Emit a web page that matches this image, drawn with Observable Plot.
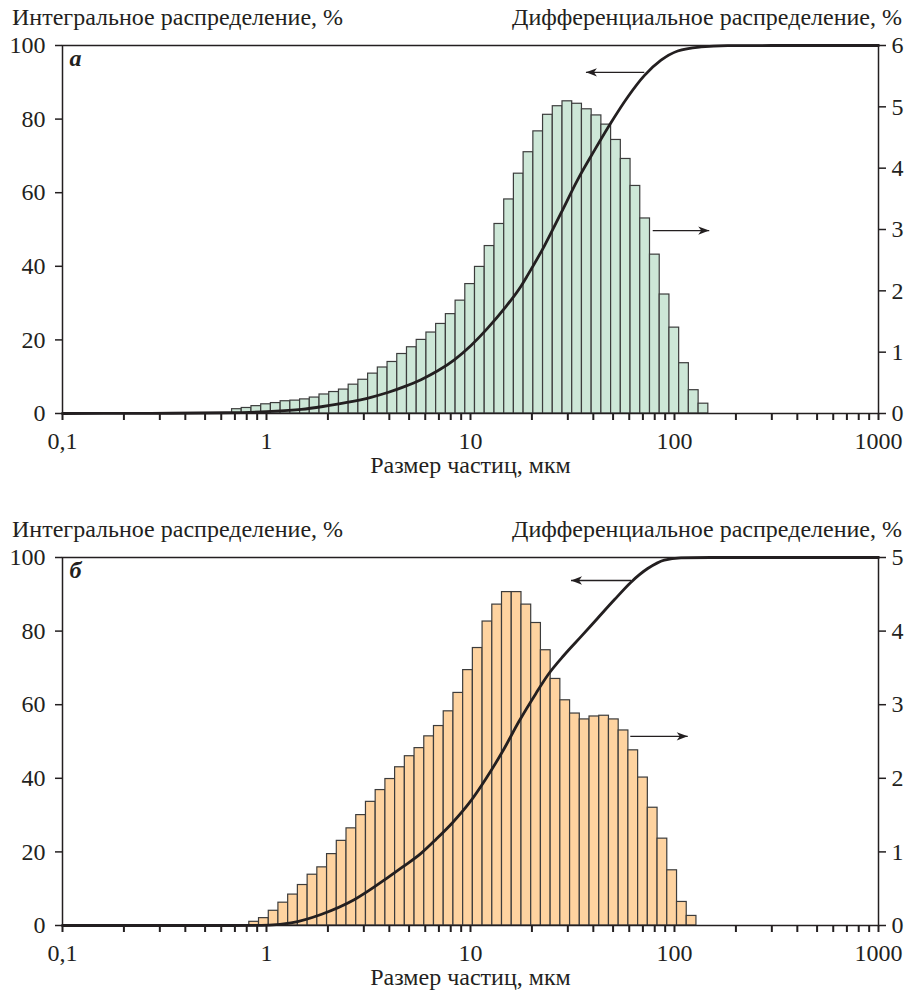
<!DOCTYPE html>
<html><head><meta charset="utf-8">
<script src="https://cdn.jsdelivr.net/npm/d3@7"></script>
<script src="https://cdn.jsdelivr.net/npm/@observablehq/plot@0.6"></script>
<style>
body{margin:0;background:#fff;font-family:"Liberation Serif",serif;color:#231f20}
#wrap{position:relative;width:906px;height:990px;overflow:hidden;background:#fff}
.panel{position:absolute;left:0;width:906px;height:512px}
.hd{position:absolute;top:5px;font-size:24px;line-height:24px;white-space:nowrap}
.hl{left:12px}
.hr{right:4px}
.panel svg{position:absolute;left:0;top:30px}
</style></head>
<body><div id="wrap"></div>
<script>
// ---- axis text ----
const titleLeft = "Интегральное распределение, %";
const titleRight = "Дифференциальное распределение, %";
const xLabel = "Размер частиц, мкм";
const xTicksMajor = [0.1, 1, 10, 100, 1000];
const xTickLabels = ["0,1", "1", "10", "100", "1000"];
const leftTicks = [0, 20, 40, 60, 80, 100];
const rightTicksA = [0, 1, 2, 3, 4, 5, 6];
const rightTicksB = [0, 1, 2, 3, 4, 5];

// ---- panel а: size-class edges (µm) and differential distribution (%) ----
const edgesA = [0.678,0.756,0.844,0.942,1.051,1.173,1.309,1.461,1.630,1.819,2.030,2.266,2.528,2.821,3.148,3.513,3.921,4.375,4.883,5.449,6.081,6.786,7.573,8.452,9.430,10.52,11.74,13.11,14.63,16.32,18.21,20.33,22.68,25.31,28.25,31.52,35.18,39.26,43.81,48.89,54.56,60.89,67.95,75.84,84.63,94.45,105.4,117.6,131.3,146.5];
const diffA = [0.07,0.09,0.12,0.15,0.17,0.20,0.21,0.23,0.26,0.31,0.35,0.39,0.47,0.55,0.65,0.75,0.84,0.97,1.08,1.20,1.32,1.46,1.62,1.84,2.11,2.39,2.73,3.09,3.49,3.91,4.26,4.60,4.87,5.01,5.09,5.05,4.96,4.86,4.71,4.46,4.15,3.71,3.18,2.59,1.94,1.40,0.82,0.38,0.16];
// integral curve
const cumSizeA = [0.1,0.272,0.633,1.0,1.48,1.89,2.48,3.25,3.93,4.74,5.72,6.91,8.33,10.06,12.14,14.64,17.68,19.07,23.0,27.8,33.5,40.5,48.8,59.0,71.1,85.9,103.7,134.9,182.3,300,1000];
const cumPctA = [0,0.05,0.2,0.5,1.1,1.9,3.0,4.4,5.7,7.3,9.2,11.6,14.6,18.5,23.2,28.5,34.6,37.6,45.5,54.5,63.5,71.5,79.0,86.0,91.8,96.0,98.5,99.6,99.95,100,100];
// annotation arrows (x in µm, y in %)
const arrowFromA = [71.1, 78.2];
const arrowToA = [36.8, 148];
const arrowYA = [92.7, 49.7];

// ---- panel б ----
const edgesB = [0.8235,0.9190,1.026,1.144,1.277,1.425,1.591,1.775,1.981,2.211,2.467,2.754,3.073,3.429,3.827,4.270,4.766,5.318,5.935,6.622,7.391,8.248,9.204,10.27,11.46,12.79,14.27,15.93,17.78,19.84,22.14,24.71,27.57,30.77,34.34,38.32,42.77,47.72,53.26,59.43,66.33,74.01,82.60,92.18,102.9,114.8,128.1];
const diffB = [0.05,0.10,0.20,0.31,0.42,0.55,0.69,0.79,0.97,1.15,1.32,1.50,1.68,1.84,1.99,2.15,2.30,2.41,2.57,2.71,2.91,3.16,3.47,3.77,4.13,4.36,4.53,4.53,4.36,4.11,3.74,3.35,3.06,2.88,2.80,2.84,2.85,2.80,2.65,2.38,2.01,1.60,1.18,0.75,0.32,0.13];
const cumSizeB = [0.1,0.671,1.03,1.32,1.85,2.69,3.93,4.65,5.72,6.77,8.18,9.86,11.9,14.4,17.3,20.9,23.9,28.8,34.8,42.0,50.7,61.2,73.9,89.1,107.6,150,1000];
const cumPctB = [0,0,0.1,0.7,3.0,7.0,13.0,15.9,19.6,23.4,28.0,33.3,39.9,47.4,55.5,63.0,68.0,73.5,78.5,83.5,88.5,93.3,97.0,99.3,99.9,100,100];
const arrowFromB = [61.2, 60.7];
const arrowToB = [31.1, 116.1];
const arrowYB = [93.75, 51.4];

const ink = "#231f20";
const headSymbol = {
  draw(ctx) { // tip at origin, pointing up
    ctx.moveTo(0, 0); ctx.lineTo(4.2, 11); ctx.lineTo(0, 8); ctx.lineTo(-4.2, 11); ctx.closePath();
  }
};

function minorTicks() {
  const t = [];
  for (const d of xTicksMajor.slice(0, 4)) for (let m = 2; m <= 9; m++) t.push(d * m);
  return t;
}

function panel(o) {
  const k = 100 / o.rightTicks[o.rightTicks.length - 1];
  const bars = o.diff.map((v, i) => ({x1: o.edges[i], x2: o.edges[i + 1], v: v * k}));
  const curve = o.sizes.map((s, i) => ({x: s, y: o.pct[i]}));
  const arrows = o.from.map((f, i) => ({from: f, to: o.to[i], y: o.ay[i]}));
  return Plot.plot({
    width: 906, height: o.height,
    marginTop: 15, marginLeft: 62, marginRight: 28, marginBottom: o.marginBottom,
    style: {fontFamily: "Liberation Serif", fontSize: "24px", color: ink, background: "#fff", overflow: "visible"},
    x: {type: "log", domain: [0.1, 1000]},
    y: {domain: [0, 100]},
    marks: [
      Plot.rect(bars, {x1: "x1", x2: "x2", y1: 0, y2: "v", fill: o.fill, stroke: "#3c3c3c", strokeWidth: 1.2}),
      Plot.line(curve, {x: "x", y: "y", curve: "monotone-x", stroke: ink, strokeWidth: 2.8}),
      Plot.link(arrows, {x1: "from", x2: "to", y1: "y", y2: "y", stroke: ink, strokeWidth: 1.3}),
      Plot.dot(arrows, {x: "to", y: "y", symbol: headSymbol, r: 5, fill: ink, stroke: "none",
        rotate: d => d.to > d.from ? 90 : -90}),
      Plot.frame({stroke: ink, strokeWidth: 1.5}),
      Plot.axisX({ticks: [...xTicksMajor, ...minorTicks()],
        tickFormat: v => { const i = xTicksMajor.indexOf(v); return i >= 0 ? xTickLabels[i] : ""; },
        tickSize: 7, tickPadding: 11, strokeWidth: 2, label: null}),
      Plot.axisY({anchor: "left", ticks: leftTicks, tickSize: 7, tickPadding: 10, strokeWidth: 1.5, label: null}),
      Plot.axisY({anchor: "right", ticks: o.rightTicks.map(v => v * k),
        tickFormat: v => String(Math.round(v / k)), tickSize: 7, tickPadding: 6, strokeWidth: 1.5, label: null}),
      Plot.text([o.letter], {frameAnchor: "top-left", lineAnchor: "middle", dx: 7, dy: 13, fontStyle: "italic", fontWeight: "bold"}),
      Plot.text([xLabel], {frameAnchor: "bottom", lineAnchor: "middle", dy: 52})
    ]
  });
}

function addPanel(top, o) {
  const div = document.createElement("div");
  div.className = "panel";
  div.style.top = top + "px";
  div.innerHTML = `<div class="hd hl">${titleLeft}</div><div class="hd hr">${titleRight}</div>`;
  div.appendChild(panel(o));
  document.getElementById("wrap").appendChild(div);
}

addPanel(0, {edges: edgesA, diff: diffA, rightTicks: rightTicksA, sizes: cumSizeA, pct: cumPctA,
  from: arrowFromA, to: arrowToA, ay: arrowYA, fill: "#cde7d7", letter: "а", height: 455, marginBottom: 72});
addPanel(512, {edges: edgesB, diff: diffB, rightTicks: rightTicksB, sizes: cumSizeB, pct: cumPctB,
  from: arrowFromB, to: arrowToB, ay: arrowYB, fill: "#fed3a0", letter: "б", height: 448, marginBottom: 65});
</script>
</body></html>
